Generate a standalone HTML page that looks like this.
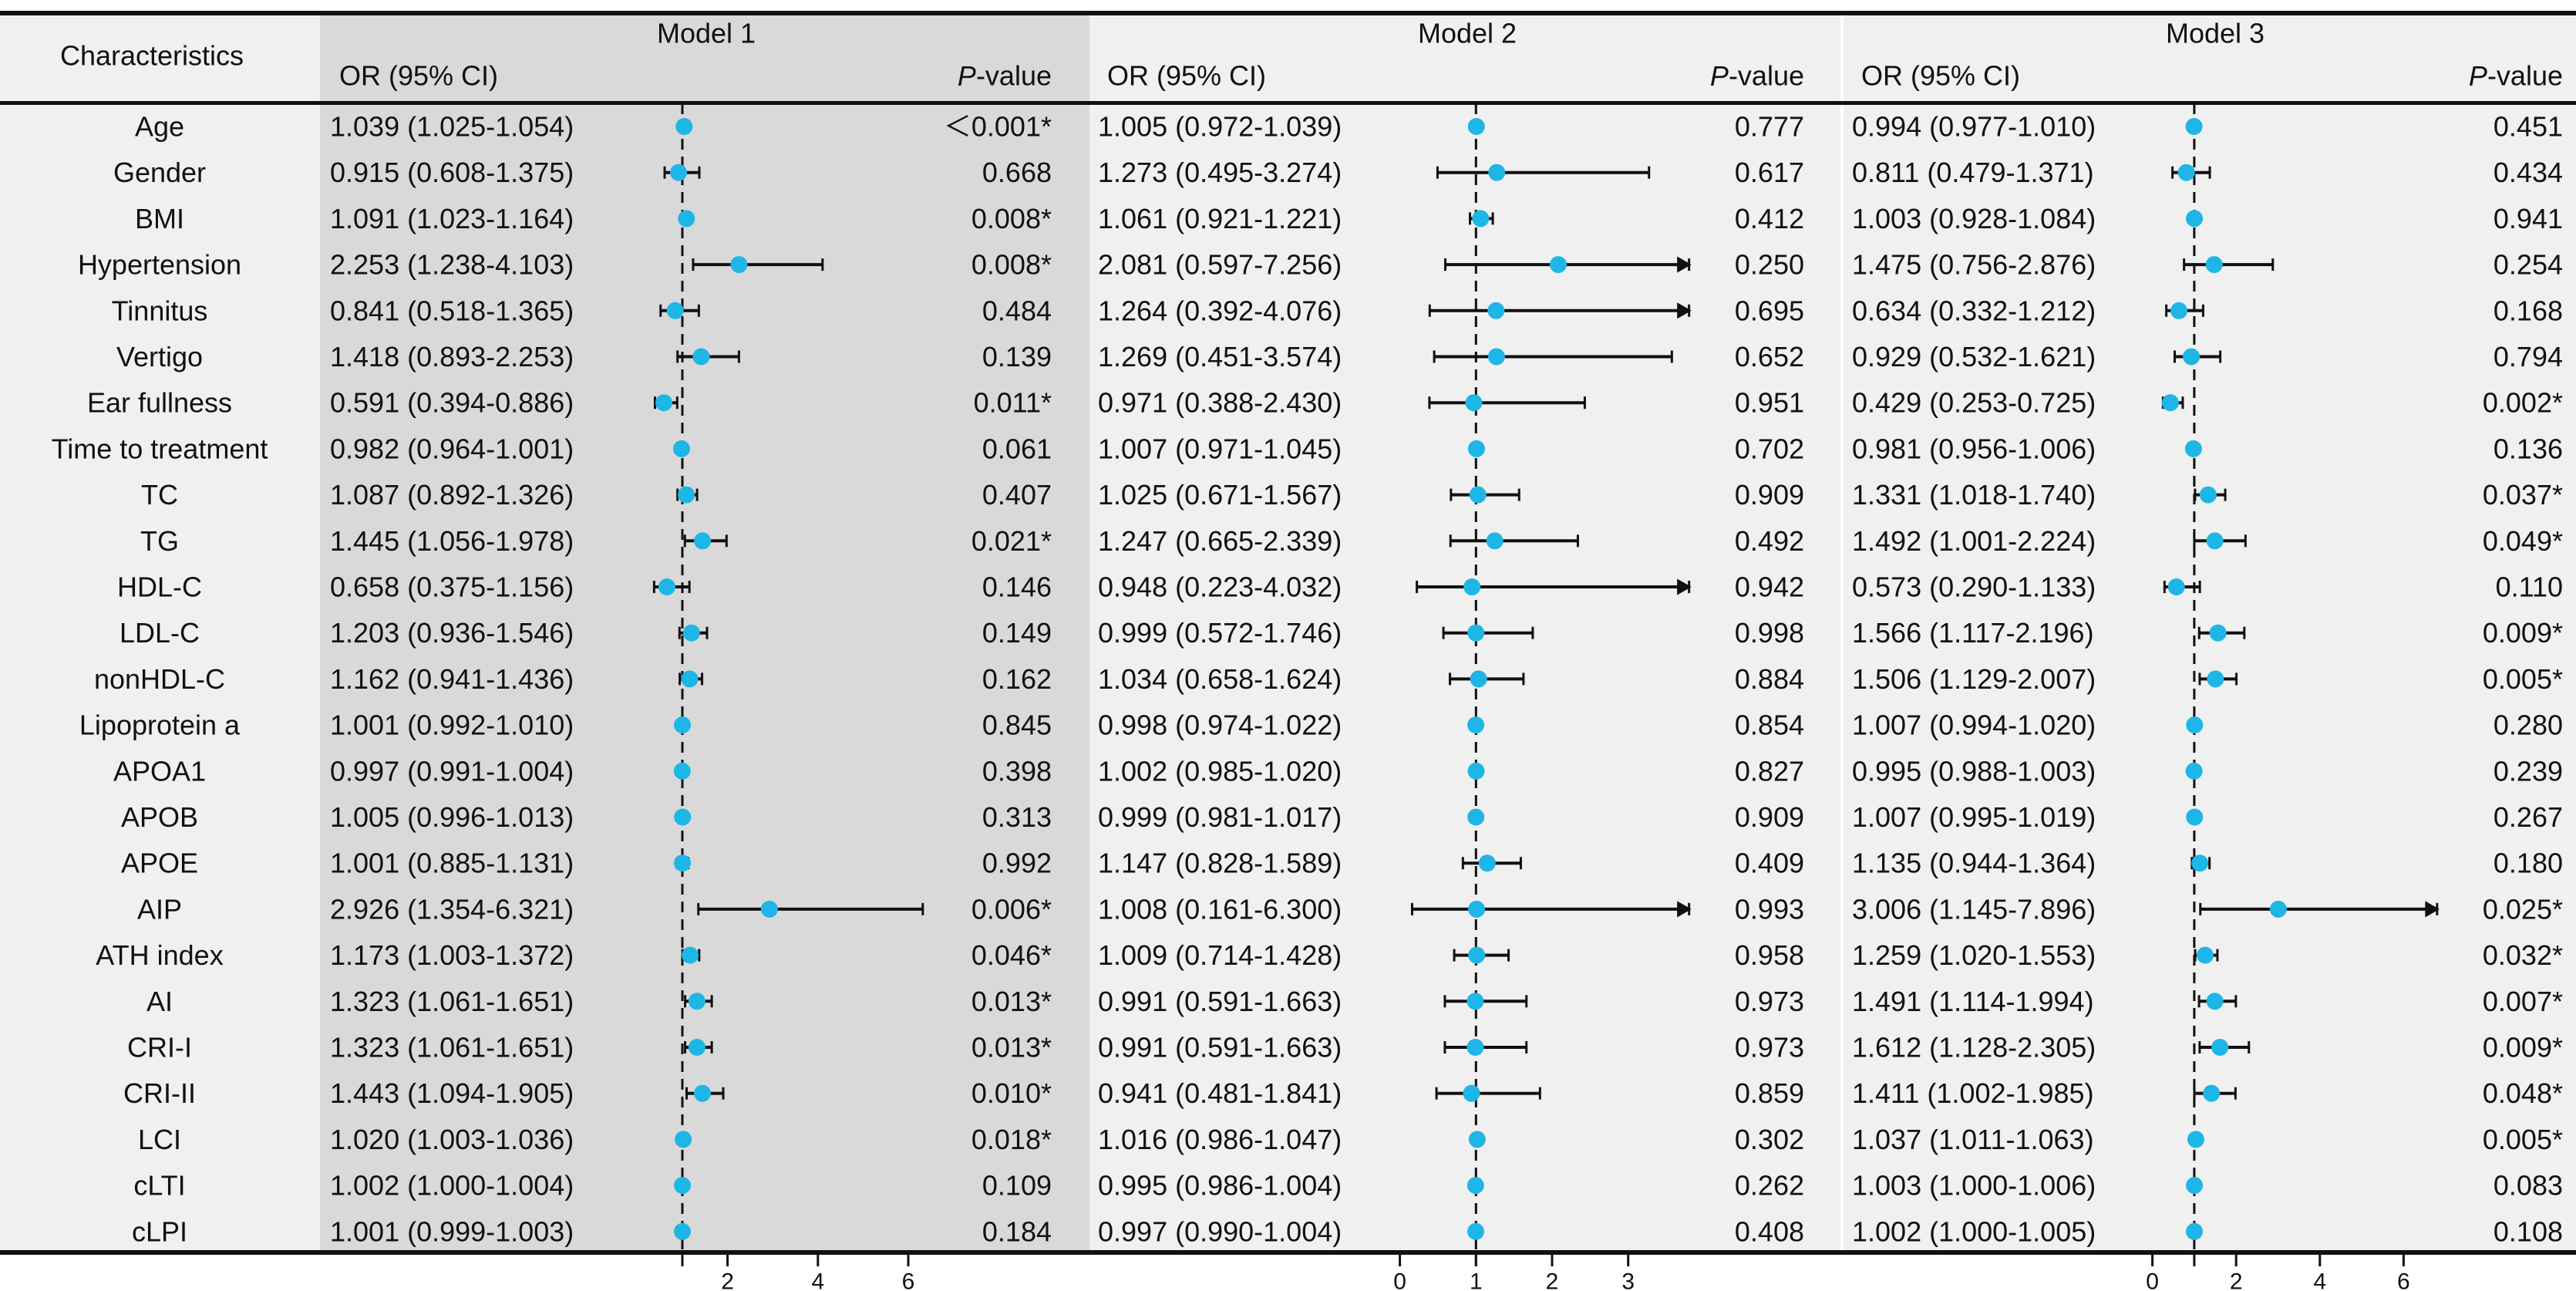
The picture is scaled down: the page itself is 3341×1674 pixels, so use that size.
<!DOCTYPE html>
<html><head><meta charset="utf-8"><style>
html,body{margin:0;padding:0;background:#fff;}
svg{display:block;font-family:"Liberation Sans","Noto Sans CJK SC",sans-serif;}
</style></head><body>
<svg id="chart" width="3341" height="1674" viewBox="0 0 3341 1674" xmlns="http://www.w3.org/2000/svg"></svg>
<script>
const characteristics=["Age","Gender","BMI","Hypertension","Tinnitus","Vertigo","Ear fullness","Time to treatment","TC","TG","HDL-C","LDL-C","nonHDL-C","Lipoprotein a","APOA1","APOB","APOE","AIP","ATH index","AI","CRI-I","CRI-II","LCI","cLTI","cLPI"];
const m1OR=[1.039,0.915,1.091,2.253,0.841,1.418,0.591,0.982,1.087,1.445,0.658,1.203,1.162,1.001,0.997,1.005,1.001,2.926,1.173,1.323,1.323,1.443,1.020,1.002,1.001];
const m1Lo=[1.025,0.608,1.023,1.238,0.518,0.893,0.394,0.964,0.892,1.056,0.375,0.936,0.941,0.992,0.991,0.996,0.885,1.354,1.003,1.061,1.061,1.094,1.003,1.000,0.999];
const m1Hi=[1.054,1.375,1.164,4.103,1.365,2.253,0.886,1.001,1.326,1.978,1.156,1.546,1.436,1.010,1.004,1.013,1.131,6.321,1.372,1.651,1.651,1.905,1.036,1.004,1.003];
const m1P=["＜0.001*","0.668","0.008*","0.008*","0.484","0.139","0.011*","0.061","0.407","0.021*","0.146","0.149","0.162","0.845","0.398","0.313","0.992","0.006*","0.046*","0.013*","0.013*","0.010*","0.018*","0.109","0.184"];
const m2OR=[1.005,1.273,1.061,2.081,1.264,1.269,0.971,1.007,1.025,1.247,0.948,0.999,1.034,0.998,1.002,0.999,1.147,1.008,1.009,0.991,0.991,0.941,1.016,0.995,0.997];
const m2Lo=[0.972,0.495,0.921,0.597,0.392,0.451,0.388,0.971,0.671,0.665,0.223,0.572,0.658,0.974,0.985,0.981,0.828,0.161,0.714,0.591,0.591,0.481,0.986,0.986,0.990];
const m2Hi=[1.039,3.274,1.221,7.256,4.076,3.574,2.430,1.045,1.567,2.339,4.032,1.746,1.624,1.022,1.020,1.017,1.589,6.300,1.428,1.663,1.663,1.841,1.047,1.004,1.004];
const m2P=["0.777","0.617","0.412","0.250","0.695","0.652","0.951","0.702","0.909","0.492","0.942","0.998","0.884","0.854","0.827","0.909","0.409","0.993","0.958","0.973","0.973","0.859","0.302","0.262","0.408"];
const m3OR=[0.994,0.811,1.003,1.475,0.634,0.929,0.429,0.981,1.331,1.492,0.573,1.566,1.506,1.007,0.995,1.007,1.135,3.006,1.259,1.491,1.612,1.411,1.037,1.003,1.002];
const m3Lo=[0.977,0.479,0.928,0.756,0.332,0.532,0.253,0.956,1.018,1.001,0.290,1.117,1.129,0.994,0.988,0.995,0.944,1.145,1.020,1.114,1.128,1.002,1.011,1.000,1.000];
const m3Hi=[1.010,1.371,1.084,2.876,1.212,1.621,0.725,1.006,1.740,2.224,1.133,2.196,2.007,1.020,1.003,1.019,1.364,7.896,1.553,1.994,2.305,1.985,1.063,1.006,1.005];
const m3P=["0.451","0.434","0.941","0.254","0.168","0.794","0.002*","0.136","0.037*","0.049*","0.110","0.009*","0.005*","0.280","0.239","0.267","0.180","0.025*","0.032*","0.007*","0.009*","0.048*","0.005*","0.083","0.108"];
const m1Ticks=[2,4,6];
const m2Ticks=[0,1,2,3];
const m3Ticks=[0,2,4,6];

const NS="http://www.w3.org/2000/svg";
const svg=document.getElementById('chart');
function el(tag,attrs,parent){const e=document.createElementNS(NS,tag);for(const k in attrs)e.setAttribute(k,attrs[k]);(parent||svg).appendChild(e);return e;}
function txt(s,x,y,anchor,parent,size){const t=el('text',{x:x,y:y,'text-anchor':anchor||'start','font-size':size||36,fill:'#111','dominant-baseline':'central'},parent);t.textContent=s;return t;}

const TOP=17, HDR=134, BOT=1624, ROW0=164, ROWH=59.7;
const rowY=i=>ROW0+i*ROWH;

let b=el('rect',{x:0,y:TOP,width:415,height:BOT-TOP,fill:'#f0f0f0'});

b=el('rect',{x:415,y:TOP,width:998,height:BOT-TOP,fill:'#d9d9d9'});

b=el('rect',{x:1413,y:TOP,width:974,height:BOT-TOP,fill:'#f0f0f0'});

b=el('rect',{x:2391,y:TOP,width:950,height:BOT-TOP,fill:'#f0f0f0'});


let h=txt('Characteristics',197,72,'middle');


const models=[
 {name:'Model 1',key:'model1',cx:916,orX:428,pX:1364,x0:885,unit:58.6,ref:1,or:m1OR,lo:m1Lo,hi:m1Hi,p:m1P,ticks:m1Ticks,clip:99},
 {name:'Model 2',key:'model2',cx:1903,orX:1424,pX:2340,x0:1815.6+98.7,unit:98.7,ref:1,or:m2OR,lo:m2Lo,hi:m2Hi,p:m2P,ticks:m2Ticks,clip:3.8},
 {name:'Model 3',key:'model3',cx:2873,orX:2402,pX:3324,x0:2791.6+54.3,unit:54.3,ref:1,or:m3OR,lo:m3Lo,hi:m3Hi,p:m3P,ticks:m3Ticks,clip:6.8}
];
const f3=v=>v.toFixed(3);
models.forEach(m=>{
  const xs=v=>m.x0+(v-1)*m.unit;
  const g=el('g',{});
  
  let t=txt(m.name,m.cx,43,'middle',g);
  
  t=txt('OR (95% CI)',m.orX+12,98,'start',g);
  
  t=el('text',{x:m.pX,y:98,'text-anchor':'end','font-size':36,fill:'#111','dominant-baseline':'central'},g);
  t.innerHTML='<tspan font-style="italic">P</tspan>-value';
  
  let r=el('line',{x1:xs(m.ref),x2:xs(m.ref),y1:HDR,y2:BOT,stroke:'#111','stroke-width':3,'stroke-dasharray':'14,9'},g);
  
  m.ticks.forEach(v=>{
    const tk=el('line',{x1:xs(v),x2:xs(v),y1:BOT,y2:BOT+18,stroke:'#111','stroke-width':3},g);
    
    const tl=txt(String(v),xs(v),BOT+38,'middle',g,30);
    
  });
  const tk1=el('line',{x1:xs(1),x2:xs(1),y1:BOT,y2:BOT+18,stroke:'#111','stroke-width':3},g);
  
  characteristics.forEach((c,i)=>{
    const y=rowY(i);
    const ot=txt(f3(m.or[i])+' ('+f3(m.lo[i])+'-'+f3(m.hi[i])+')',m.orX,y,'start',g);
    
    const pt=txt(m.p[i],m.pX,y,'end',g);
    
    const clipped=m.hi[i]>m.clip;
    const xl=xs(m.lo[i]), xh=xs(Math.min(m.hi[i],m.clip)), xm=xs(m.or[i]);
    const eb=el('line',{x1:xl,x2:xh,y1:y,y2:y,stroke:'#111','stroke-width':4},g);
    
    const c1=el('line',{x1:xl,x2:xl,y1:y-8,y2:y+8,stroke:'#111','stroke-width':3},g);
    
    if(clipped){
      const ar=el('path',{d:`M${xh-14},${y-8} L${xh},${y} L${xh-14},${y+8} Z M${xh},${y-8} L${xh},${y+8}`,fill:'#111',stroke:'#111','stroke-width':3},g);
      
    } else {
      const c2=el('line',{x1:xh,x2:xh,y1:y-8,y2:y+8,stroke:'#111','stroke-width':3},g);
      
    }
    const d=el('circle',{cx:xm,cy:y,r:11,fill:'#1eb6e6'},g);
    
  });
});
characteristics.forEach((c,i)=>{
  const t=txt(c,207,rowY(i),'middle');
  
});
let s=el('line',{x1:2389,x2:2389,y1:TOP,y2:BOT,stroke:'#ffffff','stroke-width':4});

s=el('rect',{x:0,y:TOP-3,width:3341,height:6,fill:'#111'});

s=el('rect',{x:0,y:HDR-3,width:3341,height:5,fill:'#111'});

s=el('rect',{x:0,y:BOT-3,width:3341,height:6,fill:'#111'});

</script>
</body></html>
